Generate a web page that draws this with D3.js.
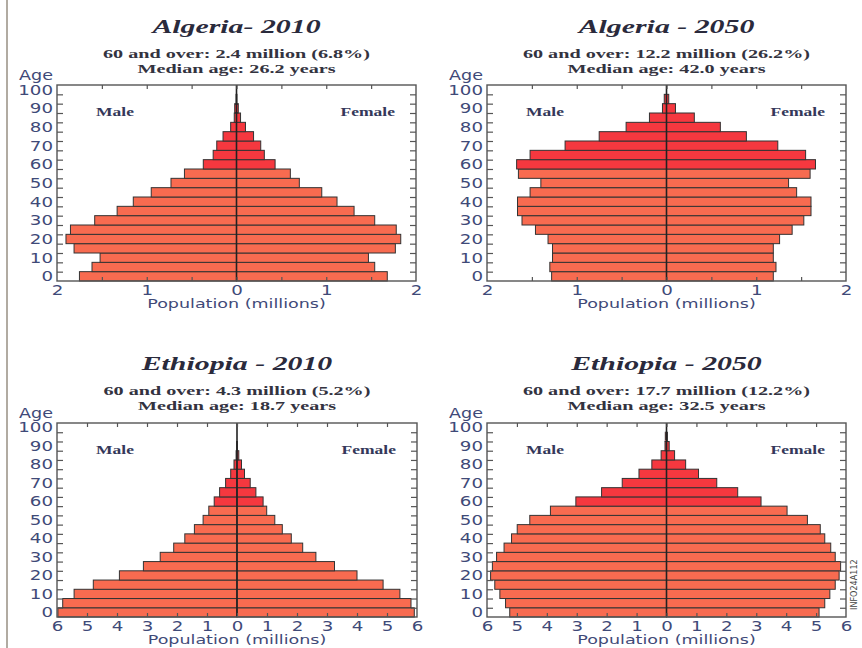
<!DOCTYPE html>
<html lang="en">
<head>
<meta charset="UTF-8">
<title>Algeria and Ethiopia population pyramids</title>
<script src="https://d3js.org/d3.v7.min.js"></script>
<style>
    body { margin: 0; background: #fff; }
    svg { display: block; }
    .title { font-family: 'Liberation Serif', serif; font-style: italic; font-weight: bold; font-size: 19px; fill: #2a2a3c; }
    .sub { font-family: 'Liberation Serif', serif; font-weight: bold; font-size: 13px; fill: #33333f; }
    .sex { font-family: 'Liberation Serif', serif; font-weight: bold; font-size: 12.5px; fill: #34385a; }
    .lbl { font-family: 'DejaVu Sans', sans-serif; font-size: 13.5px; fill: #3f4a78; }
    .axis text { font-family: 'DejaVu Sans', sans-serif; font-size: 13.5px; fill: #3f4a78; }
    .ticks line { stroke: #555; stroke-width: 1.2; }
    .ticks path { display: none; }
    .bar { stroke: #333; stroke-width: 1; }
</style>
</head>
<body>
<svg width="862" height="648"></svg>
<script>
    // age groups (start of each 5-year band), youngest first
    const ageGroups = [0, 5, 10, 15, 20, 25, 30, 35, 40, 45, 50, 55, 60, 65, 70, 75, 80, 85, 90, 95, 100];

    // population in millions, same order as ageGroups
    const algeria2010Male   = [1.75, 1.61, 1.52, 1.81, 1.90, 1.85, 1.58, 1.33, 1.15, 0.95, 0.73, 0.58, 0.37, 0.26, 0.22, 0.15, 0.065, 0.025, 0.02, 0.005, 0];
    const algeria2010Female = [1.68, 1.54, 1.47, 1.77, 1.83, 1.78, 1.54, 1.31, 1.12, 0.95, 0.70, 0.60, 0.43, 0.31, 0.27, 0.19, 0.10, 0.045, 0.02, 0.005, 0];
    const algeria2050Male   = [1.28, 1.30, 1.27, 1.27, 1.32, 1.46, 1.61, 1.66, 1.66, 1.52, 1.40, 1.65, 1.67, 1.52, 1.13, 0.75, 0.45, 0.19, 0.045, 0.025, 0];
    const algeria2050Female = [1.19, 1.22, 1.19, 1.19, 1.26, 1.40, 1.53, 1.61, 1.61, 1.45, 1.36, 1.60, 1.66, 1.55, 1.24, 0.89, 0.60, 0.31, 0.10, 0.025, 0];
    const ethiopia2010Male   = [5.97, 5.81, 5.43, 4.79, 3.92, 3.12, 2.56, 2.11, 1.74, 1.42, 1.13, 0.94, 0.76, 0.58, 0.38, 0.21, 0.10, 0.03, 0.01, 0, 0];
    const ethiopia2010Female = [5.91, 5.80, 5.43, 4.87, 4.00, 3.25, 2.63, 2.19, 1.81, 1.51, 1.26, 0.99, 0.87, 0.63, 0.44, 0.25, 0.15, 0.06, 0.01, 0, 0];
    const ethiopia2050Male   = [5.24, 5.38, 5.57, 5.74, 5.88, 5.82, 5.68, 5.43, 5.18, 4.99, 4.57, 3.88, 3.03, 2.17, 1.48, 0.92, 0.49, 0.18, 0.05, 0.04, 0];
    const ethiopia2050Female = [5.10, 5.29, 5.46, 5.64, 5.77, 5.82, 5.64, 5.49, 5.29, 5.14, 4.71, 4.03, 3.16, 2.38, 1.68, 1.07, 0.64, 0.27, 0.09, 0.03, 0];

    const panelTitles = ["Algeria- 2010", "Algeria - 2050", "Ethiopia - 2010", "Ethiopia - 2050"];
    const over60Labels = ["60 and over: 2.4 million (6.8%)", "60 and over: 12.2 million (26.2%)",
                          "60 and over: 4.3 million (5.2%)", "60 and over: 17.7 million (12.2%)"];
    const medianLabels = ["Median age: 26.2 years", "Median age: 42.0 years",
                          "Median age: 18.7 years", "Median age: 32.5 years"];
    const xMax = [2, 2, 6, 6];
    const xTickStep = [0.5, 0.5, 1, 1];
    const xLabelStep = [1, 1, 1, 1];

    const seriesMale = [algeria2010Male, algeria2050Male, ethiopia2010Male, ethiopia2050Male];
    const seriesFemale = [algeria2010Female, algeria2050Female, ethiopia2010Female, ethiopia2050Female];

    const layout = [
        { left: 57,  right: 416, top: 85,  bottom: 281, titleY: 33 },
        { left: 487, right: 846, top: 85,  bottom: 281, titleY: 33 },
        { left: 57,  right: 417, top: 423, bottom: 617, titleY: 370 },
        { left: 487, right: 846, top: 423, bottom: 617, titleY: 370 }
    ];

    const SALMON = "#f86b50", RED = "#f5383f";

    const svg = d3.select("svg");
    svg.append("rect").attr("width", 862).attr("height", 648).attr("fill", "#fff");

    // grey rule on the left edge of the page
    svg.append("line").attr("x1", 7).attr("x2", 7).attr("y1", 0).attr("y2", 648)
        .attr("stroke", "#b1aba2").attr("stroke-width", 2);

    // widen text horizontally, the picture is stretched
    function stretch(sel, sx) {
        sel.each(function() {
            const w = this.getComputedTextLength();
            d3.select(this).attr("textLength", w * sx).attr("lengthAdjust", "spacingAndGlyphs");
        });
    }

    layout.forEach((L, i) => {
        const g = svg.append("g");
        const max = xMax[i];
        const x = d3.scaleLinear().domain([-max, max]).range([L.left, L.right]);
        const y = d3.scaleBand().domain(ageGroups.slice().reverse()).range([L.top, L.bottom]).padding(0);
        const yLin = d3.scaleLinear().domain([0, 105]).range([L.bottom, L.top]);
        const cx = (L.left + L.right) / 2;

        // titles
        g.append("text").attr("class", "title").attr("x", cx).attr("y", L.titleY)
            .attr("text-anchor", "middle").text(panelTitles[i]).call(stretch, 1.57);
        g.append("text").attr("class", "sub").attr("x", cx).attr("y", L.titleY + 25)
            .attr("text-anchor", "middle").text(over60Labels[i]).call(stretch, 1.55);
        g.append("text").attr("class", "sub").attr("x", cx).attr("y", L.titleY + 40)
            .attr("text-anchor", "middle").text(medianLabels[i]).call(stretch, 1.55);

        // bars
        const rows = ageGroups.map((a, k) => ({ age: a, m: seriesMale[i][k], f: seriesFemale[i][k] }));
        g.append("g").selectAll("rect.m").data(rows.filter(d => d.m > 0)).join("rect")
            .attr("class", "bar")
            .attr("x", d => x(-d.m)).attr("width", d => x(0) - x(-d.m))
            .attr("y", d => y(d.age)).attr("height", y.bandwidth())
            .attr("fill", d => d.age >= 60 ? RED : SALMON);
        g.append("g").selectAll("rect.f").data(rows.filter(d => d.f > 0)).join("rect")
            .attr("class", "bar")
            .attr("x", x(0)).attr("width", d => x(d.f) - x(0))
            .attr("y", d => y(d.age)).attr("height", y.bandwidth())
            .attr("fill", d => d.age >= 60 ? RED : SALMON);

        // centre line
        g.append("line").attr("x1", x(0)).attr("x2", x(0)).attr("y1", L.top).attr("y2", L.bottom)
            .attr("stroke", "#222").attr("stroke-width", 1.6);

        // frame
        g.append("rect").attr("x", L.left).attr("y", L.top)
            .attr("width", L.right - L.left).attr("height", L.bottom - L.top)
            .attr("fill", "none").attr("stroke", "#555").attr("stroke-width", 1.4);

        // inner tick marks
        const step = xTickStep[i];
        const xt = d3.range(-max + step, max - step / 2, step);
        const yt = d3.range(5, 101, 5);
        g.append("g").attr("class", "ticks").attr("transform", `translate(0,${L.top})`)
            .call(d3.axisTop(x).tickValues(xt).tickSize(-4).tickFormat(""));
        g.append("g").attr("class", "ticks").attr("transform", `translate(0,${L.bottom})`)
            .call(d3.axisBottom(x).tickValues(xt).tickSize(-4).tickFormat(""));
        g.append("g").attr("class", "ticks").attr("transform", `translate(${L.left},0)`)
            .call(d3.axisLeft(yLin).tickValues(yt).tickSize(-6).tickFormat(""));
        g.append("g").attr("class", "ticks").attr("transform", `translate(${L.right},0)`)
            .call(d3.axisRight(yLin).tickValues(yt).tickSize(-6).tickFormat(""));

        // age labels
        const ya = g.append("g").attr("class", "axis").attr("transform", `translate(${L.left},0)`)
            .call(d3.axisLeft(y).tickValues(ageGroups.filter(a => a % 10 === 0)).tickSize(0).tickPadding(4));
        ya.select(".domain").remove();
        ya.selectAll("text").attr("dy", "0.36em").call(stretch, 1.35);

        // population labels
        const xl = d3.range(-max, max + 0.01, xLabelStep[i]);
        const xa = g.append("g").attr("class", "axis").attr("transform", `translate(0,${L.bottom})`)
            .call(d3.axisBottom(x).tickValues(xl).tickSize(0).tickPadding(4).tickFormat(d => Math.abs(d)));
        xa.select(".domain").remove();
        xa.selectAll("text").call(stretch, 1.35);

        g.append("text").attr("class", "lbl").attr("x", L.left - 4).attr("y", L.top - 5)
            .attr("text-anchor", "end").text("Age").call(stretch, 1.3);
        g.append("text").attr("class", "lbl").attr("x", x(0)).attr("y", L.bottom + 27)
            .attr("text-anchor", "middle").style("font-size", "12.5px")
            .text("Population (millions)").call(stretch, 1.4);

        g.append("text").attr("class", "sex").attr("x", L.left + 39).attr("y", L.top + 31)
            .text("Male").call(stretch, 1.4);
        g.append("text").attr("class", "sex").attr("x", L.right - 21).attr("y", L.top + 31)
            .attr("text-anchor", "end").text("Female").call(stretch, 1.4);
    });

    // figure code on the right margin
    svg.append("text").attr("transform", "translate(857,610) rotate(-90)")
        .style("font-family", "'DejaVu Sans Condensed', sans-serif").style("font-size", "9px")
        .attr("fill", "#444").text("INFO24A112").call(stretch, 1.0);
</script>
</body>
</html>
